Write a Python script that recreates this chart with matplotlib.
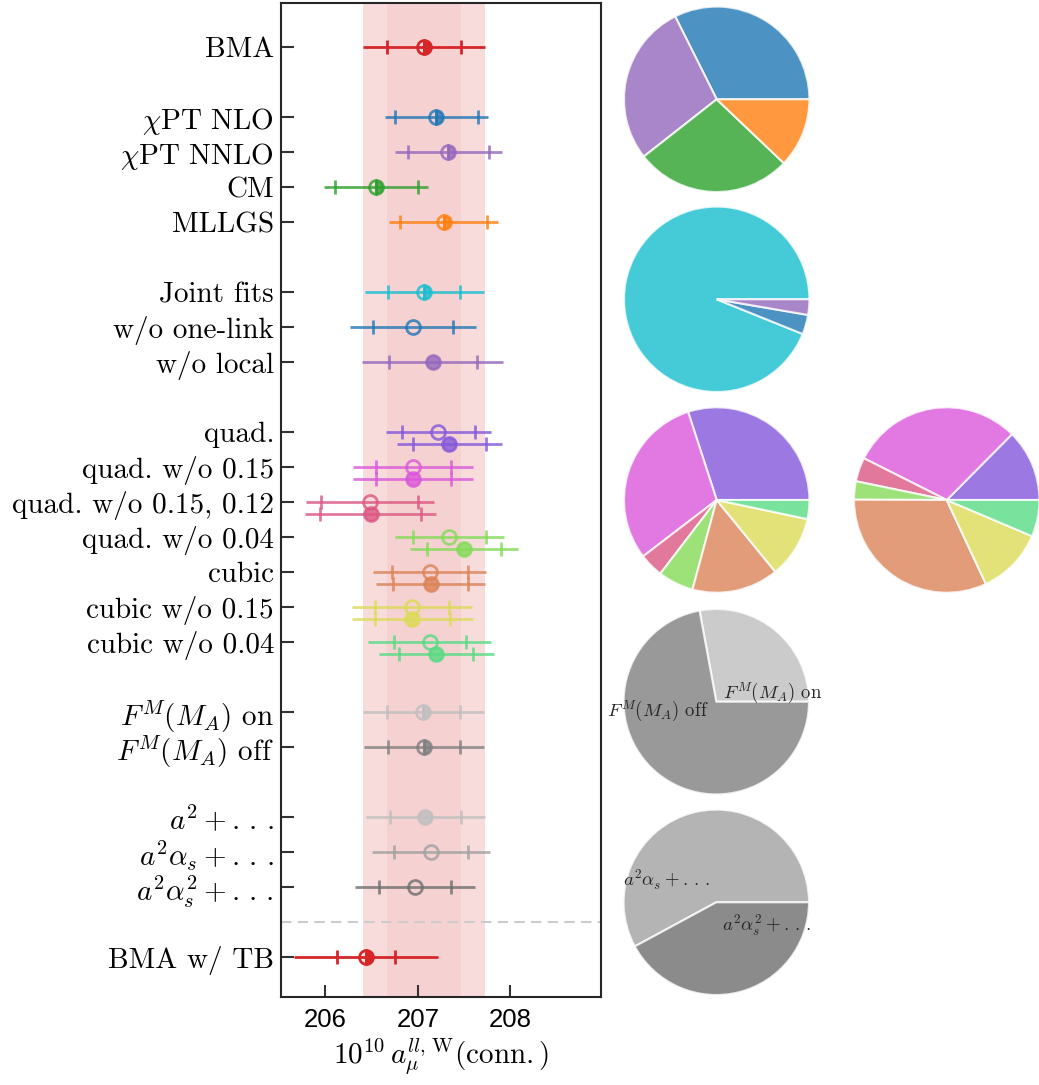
import matplotlib
matplotlib.use("Agg")
import matplotlib.pyplot as plt
import numpy as np

plt.rcParams["font.family"] = "cmr10"
plt.rcParams["mathtext.fontset"] = "cm"
plt.rcParams["axes.formatter.use_mathtext"] = True

# model-average result (band) and variations
bma_center = 207.07
bma_stat = 0.40
bma_tot = 0.66

dots = r".\,.\,."
labels = [
    "BMA",
    r"$\chi$PT NLO",
    r"$\chi$PT NNLO",
    "CM",
    "MLLGS",
    "Joint fits",
    "w/o one-link",
    "w/o local",
    "quad.",
    "quad. w/o 0.15",
    "quad. w/o 0.15, 0.12",
    "quad. w/o 0.04",
    "cubic",
    "cubic w/o 0.15",
    "cubic w/o 0.04",
    r"$F^M(M_A)$ on",
    r"$F^M(M_A)$ off",
    r"$a^2+" + dots + "$",
    r"$a^2\alpha_s+" + dots + "$",
    r"$a^2\alpha_s^2+" + dots + "$",
    "BMA w/ TB",
]
label_rows = [0, 2, 3, 4, 5, 7, 8, 9, 11, 12, 13, 14, 15, 16, 17, 19, 20, 22, 23, 24, 26]

# one entry per plotted point
rows = [0, 2, 3, 4, 5, 7, 8, 9,
        11, 11.33, 12, 12.33, 13, 13.33, 14, 14.33,
        15, 15.33, 16, 16.33, 17, 17.33,
        19, 20, 22, 23, 24, 26]
centers = [207.07, 207.20, 207.33, 206.55, 207.28, 207.07, 206.95, 207.16,
           207.22, 207.34, 206.95, 206.95, 206.48, 206.49, 207.34, 207.50,
           207.13, 207.14, 206.94, 206.94, 207.13, 207.20,
           207.06, 207.07, 207.08, 207.14, 206.97, 206.44]
err_stat = [0.40, 0.45, 0.44, 0.45, 0.47, 0.39, 0.43, 0.475,
            0.395, 0.395, 0.405, 0.405, 0.525, 0.545, 0.395, 0.40,
            0.41, 0.405, 0.40, 0.405, 0.39, 0.40,
            0.395, 0.39, 0.385, 0.40, 0.385, 0.315]
err_tot = [0.66, 0.56, 0.575, 0.56, 0.59, 0.645, 0.68, 0.76,
           0.57, 0.57, 0.65, 0.65, 0.695, 0.71, 0.59, 0.58,
           0.61, 0.59, 0.65, 0.655, 0.665, 0.62,
           0.655, 0.65, 0.645, 0.64, 0.645, 0.78]
fills = ["right", "right", "right", "right", "right", "right", "none", "full",
         "none", "full", "none", "full", "none", "full", "none", "full",
         "none", "full", "none", "full", "none", "full",
         "right", "right", "full", "none", "none", "right"]

c_red = "#d62728"
c_blue = "#1f77b4"
c_purple = "#9467bd"
c_green = "#2ca02c"
c_orange = "#ff7f0e"
c_cyan = "#17becf"
c_quad = "#8357db"
c_q015 = "#db57db"
c_q01512 = "#db5783"
c_q004 = "#83db57"
c_cub = "#db8357"
c_c015 = "#dbdb57"
c_c004 = "#57db83"
c_fon = "0.75"
c_foff = "0.5"
c_a2 = "0.75"
c_a2as = "0.63"
c_a2as2 = "0.43"

colors = [c_red, c_blue, c_purple, c_green, c_orange, c_cyan, c_blue, c_purple,
          c_quad, c_quad, c_q015, c_q015, c_q01512, c_q01512, c_q004, c_q004,
          c_cub, c_cub, c_c015, c_c015, c_c004, c_c004,
          c_fon, c_foff, c_a2, c_a2as, c_a2as2, c_red]

# model weights shown as pies
pie_chpt = [0.324, 0.282, 0.273, 0.121]
pie_chpt_colors = [c_blue, c_purple, c_green, c_orange]
pie_joint = [0.939, 0.034, 0.027]
pie_joint_colors = [c_cyan, c_blue, c_purple]
pie_fit_a = [0.300, 0.304, 0.042, 0.062, 0.151, 0.108, 0.033]
pie_fit_b = [0.126, 0.301, 0.042, 0.032, 0.321, 0.117, 0.064]
pie_fit_colors = [c_quad, c_q015, c_q01512, c_q004, c_cub, c_c015, c_c004]
pie_fm = [0.279, 0.721]
pie_fm_labels = [r"$F^M(M_A)$ on", r"$F^M(M_A)$ off"]
pie_fm_colors = [c_fon, c_foff]
pie_disc = [0.579, 0.421]
pie_disc_labels = [r"$a^2\alpha_s+" + dots + "$", r"$a^2\alpha_s^2+" + dots + "$"]
pie_disc_colors = [c_a2as, c_a2as2]

W, H = 1039, 1085
fig = plt.figure(figsize=(W / 100, H / 100), dpi=100)
ax = fig.add_axes([281 / W, 1 - 997 / H, 320 / W, 994 / H])

ax.axvspan(bma_center - bma_tot, bma_center + bma_tot, color=c_red, alpha=0.16, lw=0, zorder=0)
ax.axvspan(bma_center - bma_stat, bma_center + bma_stat, color=c_red, alpha=0.06, lw=0, zorder=0)
ax.axhline(25, color="0.8", ls="--", lw=1.5, dashes=(5, 3), zorder=1)

for y, x, es, et, fs, c in zip(rows, centers, err_stat, err_tot, fills, colors):
    a = 1.0 if c == c_red else 0.8
    ax.errorbar(x, y, xerr=et, fmt="none", ecolor=c, elinewidth=2, alpha=a, zorder=2)
    ax.plot([x - es, x + es], [y, y], ls="none", marker="|", ms=10, mew=2,
            color=c, alpha=a, zorder=3)
    ax.plot(x, y, ls="none", marker="o", ms=10, mew=2, fillstyle=fs,
            color=c, markerfacecoloralt="none", alpha=a, zorder=4)

ax.set_xlim(205.52, 208.98)
ax.set_ylim(27.14, -1.26)
ax.set_yticks(label_rows)
ax.set_yticklabels(labels, fontsize=21)
ax.set_xticks([206, 207, 208])
ax.set_xticklabels(["206", "207", "208"], fontsize=18.5, family="Liberation Sans")
ax.tick_params(direction="in", length=9, width=1.5, color="0.2")
ax.tick_params(axis="y", pad=5)
ax.tick_params(axis="x", pad=8)
for s in ax.spines.values():
    s.set_linewidth(1.5)
    s.set_color("0.15")
ax.set_xlabel(r"$10^{10}\,a_\mu^{ll,\,\mathrm{W}}(\mathrm{conn.})$", fontsize=21, labelpad=3)


def add_pie(cx, cy, weights, cols, labels=None, ldist=0.25):
    r = 92.7
    pax = fig.add_axes([(cx - r) / W, 1 - (cy + r) / H, 2 * r / W, 2 * r / H])
    pax.pie(weights, colors=cols, labels=labels, labeldistance=ldist,
            wedgeprops=dict(edgecolor="white", linewidth=1.5, alpha=0.8),
            textprops=dict(fontsize=13.5, color="0.15"))
    pax.set_xlim(-1, 1)
    pax.set_ylim(-1, 1)
    pax.set_aspect("auto")
    return pax


add_pie(716.7, 99.3, pie_chpt, pie_chpt_colors)
add_pie(716.7, 299.3, pie_joint, pie_joint_colors)
add_pie(716.7, 500, pie_fit_a, pie_fit_colors)
add_pie(946.7, 500, pie_fit_b, pie_fit_colors)
add_pie(716.3, 701.7, pie_fm, pie_fm_colors, pie_fm_labels, ldist=0.12)
add_pie(716.3, 902.3, pie_disc, pie_disc_colors, pie_disc_labels, ldist=0.25)

fig.savefig("out.png", dpi=100)
